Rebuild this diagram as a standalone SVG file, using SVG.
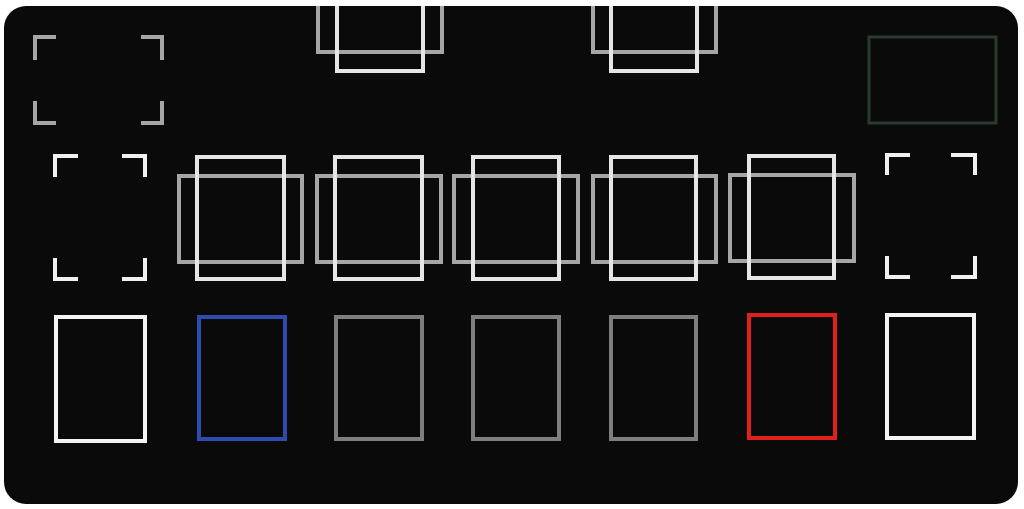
<svg xmlns="http://www.w3.org/2000/svg" width="1024" height="509" viewBox="0 0 1024 509">
<defs>
<clipPath id="matclip"><rect x="4" y="6" width="1014" height="498" rx="22" ry="22"/></clipPath>
<style>
.z{fill:none;stroke-width:4;stroke-linejoin:miter}
.h{stroke:#a8a5a5}
.v{stroke:#e6e6e6}
.br{fill:none;stroke-width:4;stroke-linecap:butt;stroke-linejoin:miter}
</style>
</defs>
<rect width="1024" height="509" fill="#ffffff"/>
<rect id="mat" x="4" y="6" width="1014" height="498" rx="22" ry="22" fill="#0a0a0a"/>
<g clip-path="url(#matclip)">
<g id="top-left-zone" class="br" stroke="#a6a6a8">
<path d="M35,60 V37 H56"/><path d="M141,37 H162 V60"/>
<path d="M35,101 V123 H56"/><path d="M141,123 H162 V101"/>
</g>
<g id="top-zone-1">
<rect class="z h" x="318" y="-10" width="124" height="62"/>
<rect class="z v" x="337" y="-10" width="86" height="81"/>
</g>
<g id="top-zone-2">
<rect class="z h" x="593" y="-10" width="123" height="62"/>
<rect class="z v" x="611" y="-10" width="86" height="81"/>
</g>
<g id="top-right-zone">
<rect x="869" y="37" width="127" height="86" fill="none" stroke="#2b3a2f" stroke-width="3"/>
</g>
<g id="mid-left-zone" class="br" stroke="#f0f0f0">
<path d="M55,177 V156 H78"/><path d="M122,156 H145 V177"/>
<path d="M55,258 V279 H78"/><path d="M122,279 H145 V258"/>
</g>
<g id="mid-right-zone" class="br" stroke="#f0f0f0">
<path d="M887,175 V155 H910"/><path d="M951,155 H975 V175"/>
<path d="M887,256 V277 H910"/><path d="M951,277 H975 V256"/>
</g>
<g id="monster-zone-1"><rect class="z h" x="179" y="176" width="123" height="86"/><rect class="z v" x="197" y="157" width="87" height="122"/></g>
<g id="monster-zone-2"><rect class="z h" x="317" y="176" width="124" height="86"/><rect class="z v" x="335" y="157" width="87" height="122"/></g>
<g id="monster-zone-3"><rect class="z h" x="454" y="176" width="124" height="86"/><rect class="z v" x="473" y="157" width="86" height="122"/></g>
<g id="monster-zone-4"><rect class="z h" x="593" y="176" width="123" height="86"/><rect class="z v" x="611" y="157" width="85" height="122"/></g>
<g id="monster-zone-5"><rect class="z h" x="730" y="175" width="124" height="86"/><rect class="z v" x="749" y="156" width="85" height="122"/></g>
<g id="bottom-zone-1"><rect class="z" stroke="#f4f4f4" x="56" y="317" width="89" height="124"/></g>
<g id="bottom-zone-2"><rect class="z" stroke="#2e4cb0" x="199" y="317" width="86" height="122"/></g>
<g id="bottom-zone-3"><rect class="z" stroke="#7e7e7e" x="336" y="317" width="86" height="122"/></g>
<g id="bottom-zone-4"><rect class="z" stroke="#7e7e7e" x="473" y="317" width="86" height="122"/></g>
<g id="bottom-zone-5"><rect class="z" stroke="#7e7e7e" x="611" y="317" width="85" height="122"/></g>
<g id="bottom-zone-6"><rect class="z" stroke="#e0201f" x="749" y="315" width="86" height="123"/></g>
<g id="bottom-zone-7"><rect class="z" stroke="#f4f4f4" x="887" y="315" width="87" height="123"/></g>
</g>
<g id="connectors"/>
</svg>
